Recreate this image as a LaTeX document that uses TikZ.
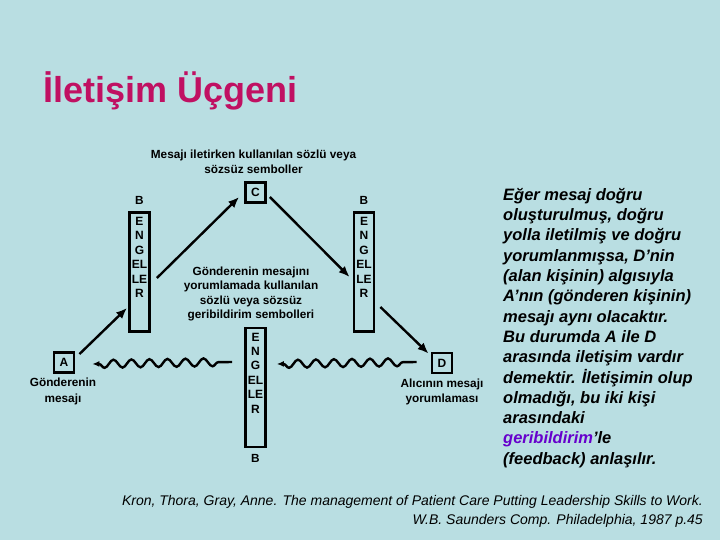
\documentclass[tikz,border=0pt]{standalone}
\usepackage{fontspec}
\setmainfont{Liberation Sans}
\usetikzlibrary{arrows.meta,calc,decorations.pathmorphing}

\definecolor{bgblue}{RGB}{185,222,226}
\definecolor{titlered}{RGB}{192,16,98}
\definecolor{fbpurple}{RGB}{102,0,204}

\begin{document}
\begin{tikzpicture}[x=1pt,y=1pt,yscale=-1,xscale=1,
	lbl/.style={inner sep=0pt,align=center,font=\bfseries\fontsize{11.8}{15}\selectfont},
	letterbox/.style={draw,line width=2.8pt,minimum size=20pt,inner sep=0pt,font=\bfseries\fontsize{12}{14}\selectfont},
	engbox/.style={draw,line width=2.8pt,minimum width=20pt,minimum height=119pt,inner sep=0pt},
	englbl/.style={inner sep=0pt,anchor=north,align=center,font=\bfseries\fontsize{12}{14.4}\selectfont},
	arr/.style={line width=2.4pt,-{Latex[length=11pt,width=9pt]}},
	wavy/.style={line width=2.4pt,-{Latex[length=7pt,width=6pt]},decorate,decoration={snake,segment length=18pt,amplitude=4pt,pre length=14pt,post length=5pt}}]
	\fill[bgblue] (0,0) rectangle (720,540);
	\useasboundingbox (0,0) rectangle (720,540);

	\node[anchor=base west,inner sep=0pt,text=titlered,font=\bfseries\fontsize{36}{40}\selectfont] (title) at (43,103) {İletişim Üçgeni};

	% triangle
	\node[lbl] (top) at (253.5,161.5) {Mesajı iletirken kullanılan sözlü veya\\sözsüz semboller};
	\node[letterbox] (C) at (255.5,192.5) {C};
	\node[letterbox] (A) at (64,362.5) {A};
	\node[letterbox] (D) at (442,363) {D};
	\node[lbl,font=\bfseries\fontsize{11.8}{16}\selectfont] (Atext) at (63,391) {Gönderenin\\mesajı};
	\node[lbl] (Dtext) at (442,391.5) {Alıcının mesajı\\yorumlaması};
	\node[lbl,font=\bfseries\fontsize{11.8}{14.2}\selectfont] (mid) at (251,294) {Gönderenin mesajını\\yorumlamada kullanılan\\sözlü veya sözsüz\\geribildirim sembolleri};

	% engeller
	\node[engbox] (eL) at (139.5,272) {};
	\node[engbox] (eR) at (364,272) {};
	\node[engbox] (eC) at (255.5,387.5) {};
	\node[englbl] (eLt) at ($(eL.north)+(0,6)$) {E\\N\\G\\EL\\LE\\R};
	\node[englbl] (eRt) at ($(eR.north)+(0,6)$) {E\\N\\G\\EL\\LE\\R};
	\node[englbl] (eCt) at ($(eC.north)+(0,6)$) {E\\N\\G\\EL\\LE\\R};
	\node[lbl] (bL) at (139.5,200) {B};
	\node[lbl] (bR) at (364,200) {B};
	\node[lbl] (bC) at (255.5,458) {B};

	\draw[arr] ($(A.north east)+(4,3)$) -- ($(eL.south west)+(-1,-25)$);
	\draw[arr] ($(eL.east)+(6,6)$) -- ($(C.west)+(-5,4.5)$);
	\draw[arr] ($(C.east)+(3,4.5)$) -- ($(eR.west)+(-3,5)$);
	\draw[arr] ($(eR.east)+(5,35)$) -- ($(D.north west)+(-2,2)$);

	\draw[wavy] ($(eC.west)+(-12,-25.5)$) -- ($(A.east)+(17,1.5)$);
	\draw[wavy] ($(D.west)+(-14,-1)$) -- ($(eC.east)+(10,-23.5)$);

	% text
	\node[anchor=north west,inner sep=0pt,align=left,font=\bfseries\itshape\fontsize{16.5}{20.3}\selectfont] (note) at (503,188) {Eğer mesaj doğru\\oluşturulmuş, doğru\\yolla iletilmiş ve doğru\\yorumlanmışsa, D’nin\\(alan kişinin) algısıyla\\A’nın (gönderen kişinin)\\mesajı aynı olacaktır.\\Bu durumda A ile D\\arasında iletişim vardır\\demektir. İletişimin olup\\olmadığı, bu iki kişi\\arasındaki\\\textcolor{fbpurple}{geribildirim}’le\\(feedback) anlaşılır.};
	\node[anchor=north east,inner sep=0pt,align=right,font=\itshape\fontsize{14}{19.5}\selectfont] (ref) at (703,495) {Kron, Thora, Gray, Anne. The management of Patient Care Putting Leadership Skills to Work.\\W.B. Saunders Comp. Philadelphia, 1987 p.45};
\end{tikzpicture}
\end{document}
